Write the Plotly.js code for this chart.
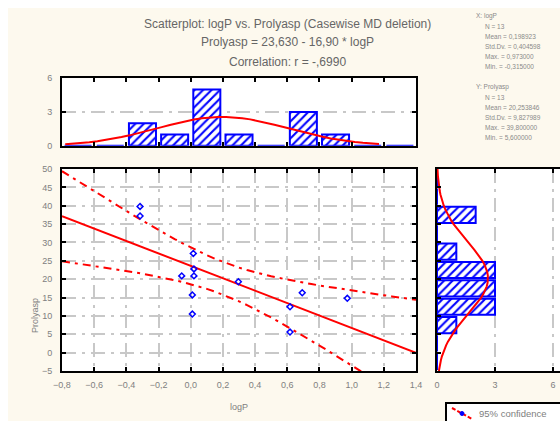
<!DOCTYPE html>
<html>
<head>
<meta charset="utf-8">
<script src="https://cdn.plot.ly/plotly-3.0.1.min.js"></script>
<style>
html,body{margin:0;padding:0;background:#ffffff;overflow:hidden;width:560px;height:421px;}
#chart{position:absolute;left:8px;top:8px;width:570px;height:413px;}
</style>
</head>
<body>
<div id="chart"></div>
<script>
// ---- data ----
const logP      = [-0.315, -0.315, -0.056, 0.016, 0.020, 0.020, 0.010, 0.010, 0.296, 0.617, 0.617, 0.693, 0.973];
const prolyasp  = [ 39.8,   37.2,   20.9,  27.0,  22.8,  20.9,  15.7,  10.5,  19.3,  12.5,   5.6,  16.3,  14.8];
const xTickVals = [-0.8, -0.6, -0.4, -0.2, 0.0, 0.2, 0.4, 0.6, 0.8, 1.0, 1.2, 1.4];
const yTickVals = [-5, 0, 5, 10, 15, 20, 25, 30, 35, 40, 45, 50];
const histTickVals = [0, 3, 6];
// regression coefficients as printed in the title
const intercept = 23.630;
const slope = -16.90;
const tCrit = 2.201; // t(0.975, 11 df)
const titleLines = ["Scatterplot: logP vs. Prolyasp (Casewise MD deletion)",
                    "Prolyasp = 23,630 - 16,90 * logP",
                    "Correlation: r = -,6990"];

// ---- derived ----
const n = logP.length;
const mean = a => a.reduce((s,v)=>s+v,0)/a.length;
const sd = a => {const m=mean(a);return Math.sqrt(a.reduce((s,v)=>s+(v-m)*(v-m),0)/(a.length-1));};
const mx = mean(logP), my = mean(prolyasp), sx = sd(logP), sy = sd(prolyasp);
const Sxx = logP.reduce((s,v)=>s+(v-mx)*(v-mx),0);
const sse = logP.reduce((s,v,i)=>{const e=prolyasp[i]-(intercept+slope*v);return s+e*e;},0);
const se = Math.sqrt(sse/(n-2));

function binCounts(vals, start, size, nb){
  const c = new Array(nb).fill(0);
  vals.forEach(v=>{let k=Math.floor((v-start)/size); if(k<0)k=0; if(k>=nb)k=nb-1; c[k]++;});
  return c;
}
const xStart=-0.8, xSize=0.2, xBins=11;
const yStart=-5, ySize=5, yBins=11;
const cx = binCounts(logP, xStart, xSize, xBins);
const cy = binCounts(prolyasp, yStart, ySize, yBins);
const xCenters = cx.map((_,k)=>xStart+xSize*(k+0.5));
const yCenters = cy.map((_,k)=>yStart+ySize*(k+0.5));

const pdf = (v,m,s)=>Math.exp(-0.5*((v-m)/s)**2)/(s*Math.sqrt(2*Math.PI));
const nx=[], ny=[];
for(let v=-0.78; v<=1.2001; v+=0.05){nx.push(v); ny.push(n*xSize*pdf(v,mx,sx));}
const ry=[], rx=[];
for(let v=-5; v<=50.001; v+=1){ry.push(v); rx.push(n*ySize*pdf(v,my,sy));}

const lx=[], ly=[], up=[], lo=[];
for(let v=-0.8; v<=1.4001; v+=0.05){
  const yh = intercept+slope*v;
  const hw = tCrit*se*Math.sqrt(1/n + (v-mx)*(v-mx)/Sxx);
  lx.push(v); ly.push(yh); up.push(yh+hw); lo.push(yh-hw);
}

const fmt = v => v.toFixed(6).replace('.', ',');
const statsX = ["X: logP", "N = "+n, "Mean = "+fmt(mx), "Std.Dv. = "+fmt(sx),
                "Max. = "+fmt(Math.max(...logP)), "Min. = "+fmt(Math.min(...logP))];
const statsY = ["Y: Prolyasp", "N = "+n, "Mean = "+fmt(my), "Std.Dv. = "+fmt(sy),
                "Max. = "+fmt(Math.max(...prolyasp)), "Min. = "+fmt(Math.min(...prolyasp))];

// ---- layout geometry (div 570x413) ----
const W=570, H=413;
const px = v=>v/W, py = v=>1-v/H;
const BLUE='#0000ff', RED='#ff0000', GRID='#c8c8c8', TXT='#808080';
const FONT='Liberation Sans, Arial, sans-serif';

const hatch = {shape:'/', fgcolor:BLUE, bgcolor:'#ffffff', size:6, solidity:0.35};

const traces = [
  {type:'bar', x:xCenters, y:cx, width:0.168, xaxis:'x2', yaxis:'y2',
   marker:{color:'#ffffff', pattern:hatch, line:{color:BLUE,width:2}}, hoverinfo:'skip'},
  {type:'scatter', mode:'lines', x:nx, y:ny, xaxis:'x2', yaxis:'y2',
   line:{color:RED,width:2}, hoverinfo:'skip'},
  {type:'bar', orientation:'h', y:yCenters, x:cy, width:4.4, xaxis:'x3', yaxis:'y3',
   marker:{color:'#ffffff', pattern:hatch, line:{color:BLUE,width:2}}, hoverinfo:'skip'},
  {type:'scatter', mode:'lines', x:rx, y:ry, xaxis:'x3', yaxis:'y3',
   line:{color:RED,width:2}, hoverinfo:'skip'},
  {type:'scatter', mode:'lines', x:lx, y:up, xaxis:'x', yaxis:'y',
   line:{color:RED,width:2,dash:'8px,5px,3px,5px'}},
  {type:'scatter', mode:'lines', x:lx, y:lo, xaxis:'x', yaxis:'y',
   line:{color:RED,width:2,dash:'8px,5px,3px,5px'}},
  {type:'scatter', mode:'lines', x:lx, y:ly, xaxis:'x', yaxis:'y',
   line:{color:RED,width:2}},
  {type:'scatter', mode:'markers', x:logP, y:prolyasp, xaxis:'x', yaxis:'y',
   marker:{symbol:'diamond-open', size:4.5, color:BLUE, line:{color:BLUE,width:1.5}}}
];

const axBase = {showline:true, linecolor:'#000000', linewidth:2, mirror:'allticks',
  ticks:'inside', ticklen:4, tickwidth:2, tickcolor:'#000000', zeroline:false,
  tickfont:{family:FONT, size:9, color:TXT}, gridcolor:GRID, gridwidth:2,
  griddash:'14px,6px,3px,6px'};

const annotations = [];
titleLines.forEach((t,i)=>annotations.push({xref:'paper', yref:'paper',
  x:px(279), y:py([16,34,54][i]), text:t, showarrow:false, xanchor:'center', yanchor:'middle',
  font:{family:FONT, size:12, color:'#666666'}}));
statsX.forEach((t,i)=>annotations.push({xref:'paper', yref:'paper',
  x:px(i===0?466:475), y:py(8+i*10.2), text:t, showarrow:false, xanchor:'left', yanchor:'middle',
  font:{family:FONT, size:6.5, color:'#8a8a8a'}}));
statsY.forEach((t,i)=>annotations.push({xref:'paper', yref:'paper',
  x:px(i===0?466:475), y:py(79+i*10.2), text:t, showarrow:false, xanchor:'left', yanchor:'middle',
  font:{family:FONT, size:6.5, color:'#8a8a8a'}}));
annotations.push({xref:'paper', yref:'paper', x:px(231), y:py(399), text:'logP', showarrow:false,
  xanchor:'center', yanchor:'middle', font:{family:FONT, size:9, color:TXT}});
annotations.push({xref:'paper', yref:'paper', x:px(27), y:py(308), text:'Prolyasp', showarrow:false,
  textangle:-90, xanchor:'center', yanchor:'middle', font:{family:FONT, size:9, color:TXT}});
annotations.push({xref:'paper', yref:'paper', x:px(469), y:py(405), text:'95% confidence', showarrow:false,
  xanchor:'left', yanchor:'middle', font:{family:FONT, size:9.5, color:TXT}});

const shapes = [
  {type:'rect', xref:'paper', yref:'paper', x0:px(438), x1:px(600), y0:py(395), y1:py(440),
   line:{color:'#000000', width:2}, fillcolor:'#ffffff', layer:'below'},
  {type:'line', xref:'paper', yref:'paper', x0:px(444), y0:py(400), x1:px(464), y1:py(411),
   line:{color:RED, width:2, dash:'4px,2px'}},
  {type:'circle', xref:'paper', yref:'paper', x0:px(452), x1:px(456), y0:py(407.5), y1:py(403.5),
   line:{color:BLUE, width:1}, fillcolor:BLUE}
];

const layout = {
  width:W, height:H, margin:{l:0,r:0,t:0,b:0},
  paper_bgcolor:'#fdf9ee', plot_bgcolor:'#ffffff', showlegend:false,
  separators:', ', font:{family:FONT, size:9, color:TXT},
  xaxis: Object.assign({}, axBase, {domain:[px(54),px(408)], range:[-0.8,1.4], tickvals:xTickVals,
    tickformat:'.1f', anchor:'y', showgrid:true, ticklabelstandoff:4}),
  yaxis: Object.assign({}, axBase, {domain:[py(363),py(161)], range:[-5,50], tickvals:yTickVals,
    anchor:'x', showgrid:true, ticklabelstandoff:6}),
  xaxis2: Object.assign({}, axBase, {domain:[px(54),px(408)], range:[-0.8,1.4], tickvals:xTickVals,
    showticklabels:false, anchor:'y2', showgrid:false}),
  yaxis2: Object.assign({}, axBase, {domain:[py(137.7),py(70.3)], range:[0,6], tickvals:histTickVals,
    anchor:'x2', showgrid:true, ticklabelstandoff:6}),
  xaxis3: Object.assign({}, axBase, {domain:[px(429),px(556.6)], range:[0,6.6], tickvals:histTickVals,
    anchor:'y3', showgrid:true, ticklabelstandoff:4}),
  yaxis3: Object.assign({}, axBase, {domain:[py(363),py(161)], range:[-5,50], tickvals:yTickVals,
    showticklabels:false, anchor:'x3', showgrid:false}),
  bargap:0, annotations:annotations, shapes:shapes
};

Plotly.newPlot('chart', traces, layout, {staticPlot:true, displayModeBar:false});
</script>
</body>
</html>
